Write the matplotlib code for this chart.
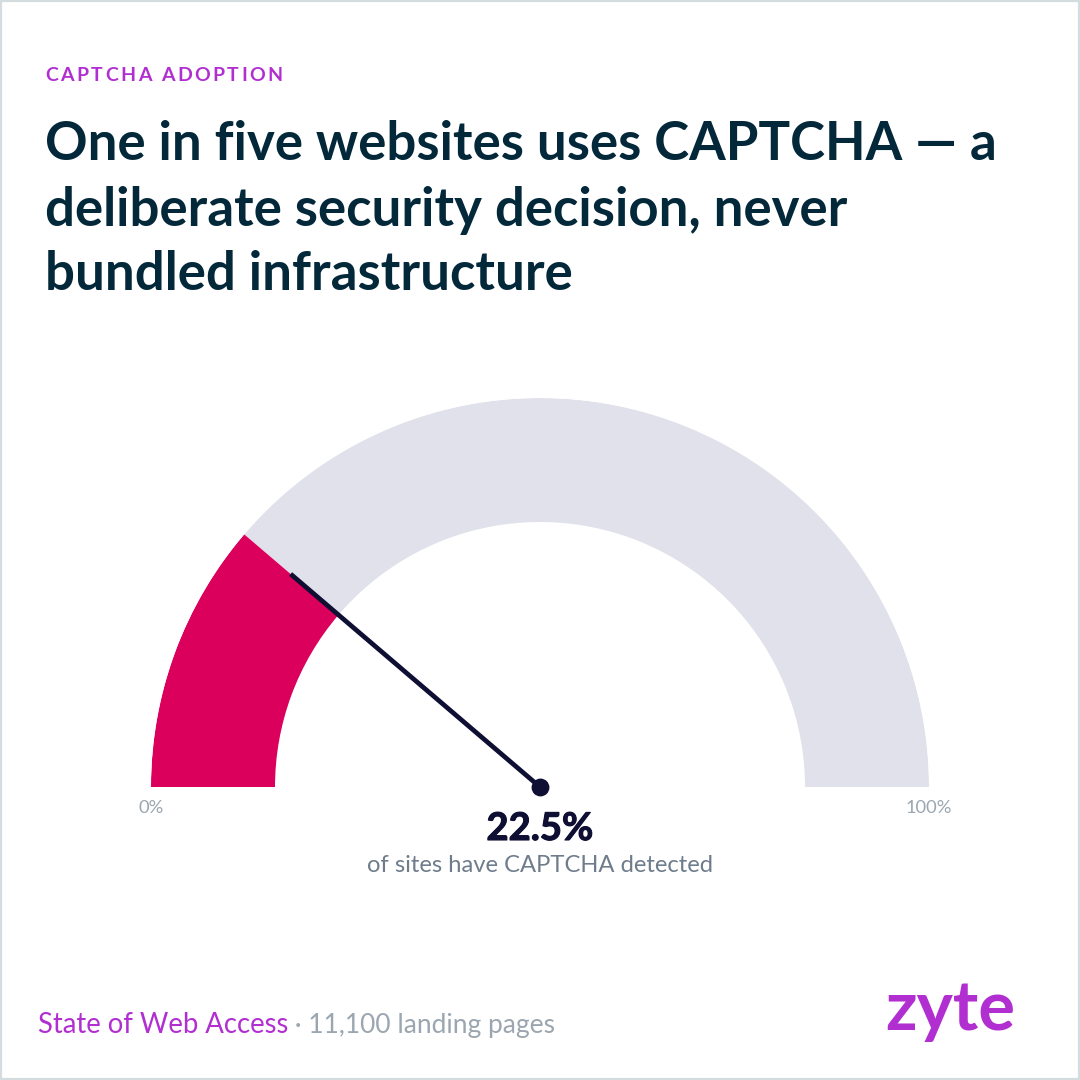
# captcha adoption gauge
import numpy as np
import matplotlib
matplotlib.use("Agg")
import matplotlib.pyplot as plt
import matplotlib.patheffects as pe
from matplotlib.patches import Rectangle

# data
captcha_share = 22.5
scale_min = 0
scale_max = 100
tick_labels = ["0%", "100%"]
value_label = "22.5%"
value_caption = "of sites have CAPTCHA detected"
eyebrow = "CAPTCHA ADOPTION"
title_lines = [
    "One in five websites uses CAPTCHA — a",
    "deliberate security decision, never",
    "bundled infrastructure",
]
source_name = "State of Web Access"
source_rest = " · 11,100 landing pages"

PURPLE = "#B12ED1"
INK = "#03283A"
RED = "#DB005C"
TRACK = "#E0E1EB"
NEEDLE = "#0E0F33"
GREY = "#9BA6B0"
SLATE = "#6E7C8B"

plt.rcParams["font.family"] = ["Lato", "DejaVu Sans"]


def pct_to_theta(p):
    return np.pi * (1 - (p - scale_min) / (scale_max - scale_min))


def spaced_text(ax, x, y, s, gap, **kw):
    # matplotlib has no letter spacing, so place the glyphs one at a time
    r = ax.figure.canvas.get_renderer()
    probe = ax.text(0, 0, "", **kw)

    def advance(t):
        # bars keep the trailing space in the measured width
        probe.set_text("|" + t + "|")
        full = probe.get_window_extent(r).width
        probe.set_text("||")
        return full - probe.get_window_extent(r).width

    for i, ch in enumerate(s):
        ax.text(x + advance(s[:i]) + gap * i, y, ch, ha="left", va="baseline", **kw)
    probe.remove()


fig = plt.figure(figsize=(10.8, 10.8), dpi=100, facecolor="white")

# gauge, polar axes centred on the needle pivot
cx, cy, r_outer, r_inner = 540, 787, 389, 265
gauge = fig.add_axes([(cx - r_outer) / 1080, (1080 - cy - r_outer) / 1080,
                      2 * r_outer / 1080, 2 * r_outer / 1080],
                     projection="polar")
gauge.set_ylim(0, r_outer)
gauge.set_axis_off()

start = pct_to_theta(scale_min)
split = pct_to_theta(captcha_share)
end = pct_to_theta(scale_max)

gauge.bar((split + end) / 2, r_outer - r_inner, width=split - end, bottom=r_inner,
          color=TRACK, linewidth=0, zorder=1)
gauge.bar((start + split) / 2, r_outer - r_inner, width=start - split, bottom=r_inner,
          color=RED, linewidth=0, zorder=2)
gauge.plot([split, split], [0, 328], color=NEEDLE, lw=3.4, solid_capstyle="butt", zorder=3)
gauge.scatter([split], [0], s=165, color=NEEDLE, linewidth=0, zorder=4, clip_on=False)

# text layer in pixel coordinates
ax = fig.add_axes([0, 0, 1, 1], facecolor="none")
ax.set_xlim(0, 1080)
ax.set_ylim(1080, 0)
ax.axis("off")

ax.add_patch(Rectangle((0.75, 0.75), 1078.5, 1078.5, fill=False, ec="#D5DCE0", lw=1.6))

fig.canvas.draw()
spaced_text(ax, 45, 81, eyebrow, 2.45, fontsize=14, color=PURPLE, fontweight="bold")

for line, base in zip(title_lines, [160, 226, 290]):
    ax.text(45, base, line, fontsize=38, color=INK, fontweight="bold", va="baseline", ha="left")

ax.text(151, 813, tick_labels[0], fontsize=13.2, color=GREY, ha="center", va="baseline")
ax.text(929, 813, tick_labels[1], fontsize=13.2, color=GREY, ha="center", va="baseline")

value = ax.text(540, 840, value_label, fontsize=27.5, color=NEEDLE, fontweight="bold",
                ha="center", va="baseline")
value.set_path_effects([pe.withStroke(linewidth=0.8, foreground=NEEDLE)])
ax.text(540, 872, value_caption, fontsize=17.1, color=SLATE, ha="center", va="baseline")

src = ax.text(38, 1033, source_name, fontsize=19.8, color=PURPLE, va="baseline", ha="left")
fig.canvas.draw()
bb = src.get_window_extent(fig.canvas.get_renderer())
ax.text(38 + bb.width, 1033, source_rest, fontsize=19, color=GREY, va="baseline", ha="left")

ax.text(885, 1030, "zyte", fontsize=49.5, color=PURPLE, fontweight="bold", va="baseline", ha="left")

fig.savefig("out.png", dpi=100)
